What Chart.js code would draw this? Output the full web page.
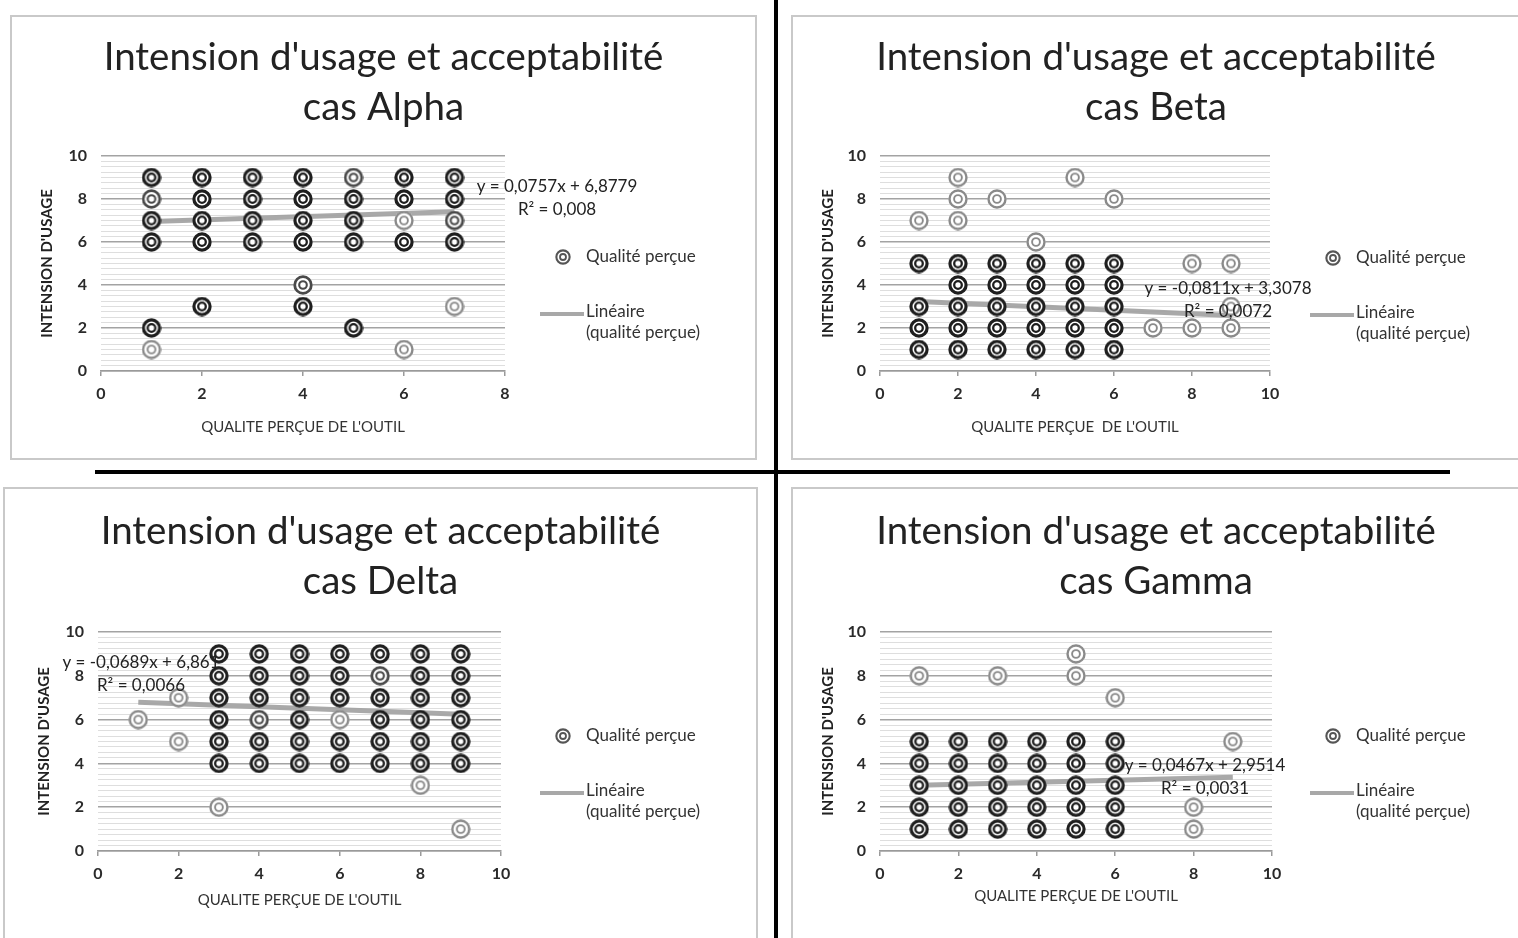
<!DOCTYPE html>
<html>
<head>
<meta charset="utf-8">
<title>Intension d'usage et acceptabilité</title>
<script src="https://cdn.jsdelivr.net/npm/chart.js@4"></script>
<style>
  body { margin:0; width:1518px; height:938px; overflow:hidden; background:#fff; position:relative; }
  .frame { position:absolute; border:2px solid #c9c9c9; box-sizing:border-box; }
  .rule { position:absolute; background:#000; }
  canvas { position:absolute; }
</style>
</head>
<body>
<div class="rule" style="left:774px;top:0;width:4px;height:938px"></div>
<div class="rule" style="left:95px;top:470px;width:1355px;height:4px"></div>

<script>
// values
// n = how many answers sit on the same spot (guessed from how dark the marker is)

// cas Alpha
const alphaX = [1,1,1,1,1,1, 2,2,2,2,2, 3,3,3,3, 4,4,4,4,4,4, 5,5,5,5,5, 6,6,6,6,6, 7,7,7,7,7];
const alphaY = [9,8,7,6,2,1, 9,8,7,6,3, 9,8,7,6, 9,8,7,6,4,3, 9,8,7,6,2, 9,8,7,6,1, 9,8,7,6,3];
const alphaN = [3,2,3,3,3,1, 3,3,3,3,3, 3,3,3,3, 3,3,3,3,2,3, 2,3,3,3,3, 3,3,1,3,1, 3,3,2,3,1];
const alphaTrendX = [1, 7];
const alphaTrendY = [6.954, 7.408];
const alphaEq = ['y = 0,0757x + 6,8779', 'R² = 0,008'];

// cas Beta
const betaX = [1,1,1,1,1, 2,2,2,2,2,2,2,2, 3,3,3,3,3,3, 4,4,4,4,4,4, 5,5,5,5,5,5, 6,6,6,6,6,6, 7, 8,8, 9,9,9];
const betaY = [7,5,3,2,1, 9,8,7,5,4,3,2,1, 8,5,4,3,2,1, 6,5,4,3,2,1, 9,5,4,3,2,1, 8,5,4,3,2,1, 2, 5,2, 5,3,2];
const betaN = [1,3,3,3,3, 1,1,1,3,3,3,3,3, 1,3,3,3,3,3, 1,3,3,3,3,3, 1,3,3,3,3,3, 1,3,3,3,3,3, 1, 1,1, 1,1,1];
const betaTrendX = [1, 9];
const betaTrendY = [3.227, 2.578];
const betaEq = ['y = -0,0811x + 3,3078', 'R² = 0,0072'];

// cas Delta
const deltaX = [1, 2,2, 3,3,3,3,3,3,3, 4,4,4,4,4,4, 5,5,5,5,5,5, 6,6,6,6,6,6, 7,7,7,7,7,7, 8,8,8,8,8,8,8, 9,9,9,9,9,9,9];
const deltaY = [6, 7,5, 9,8,7,6,5,4,2, 9,8,7,6,5,4, 9,8,7,6,5,4, 9,8,7,6,5,4, 9,8,7,6,5,4, 9,8,7,6,5,4,3, 9,8,7,6,5,4,1];
const deltaN = [1, 1,1, 3,3,3,3,3,3,1, 3,3,3,2,3,3, 3,3,3,3,3,3, 3,3,3,1,3,3, 3,2,3,3,3,3, 3,3,3,3,3,3,1, 3,3,3,3,3,3,1];
const deltaTrendX = [1, 9];
const deltaTrendY = [6.792, 6.241];
const deltaEq = ['y = -0,0689x + 6,861', 'R² = 0,0066'];

// cas Gamma
const gammaX = [1,1,1,1,1,1, 2,2,2,2,2, 3,3,3,3,3,3, 4,4,4,4,4, 5,5,5,5,5,5,5, 6,6,6,6,6,6, 8,8, 9];
const gammaY = [8,5,4,3,2,1, 5,4,3,2,1, 8,5,4,3,2,1, 5,4,3,2,1, 9,8,5,4,3,2,1, 7,5,4,3,2,1, 2,1, 5];
const gammaN = [1,3,3,3,3,3, 3,3,3,3,3, 1,3,3,3,3,3, 3,3,3,3,3, 1,1,3,3,3,3,3, 1,3,3,3,3,3, 1,1, 1];
const gammaTrendX = [1, 9];
const gammaTrendY = [2.998, 3.372];
const gammaEq = ['y = 0,0467x + 2,9514', 'R² = 0,0031'];

const mainTitle = "Intension d'usage et acceptabilité";
const yTitle = "INTENSION D'USAGE";
const legendPoints = 'Qualité perçue';
const legendTrend = ['Linéaire', '(qualité perçue)'];

const cases = [
  { name: 'cas Alpha', xs: alphaX, ys: alphaY, ns: alphaN, tx: alphaTrendX, ty: alphaTrendY, eq: alphaEq, xMax: 8,  xTitle: "QUALITE PERÇUE DE L'OUTIL" },
  { name: 'cas Beta',  xs: betaX,  ys: betaY,  ns: betaN,  tx: betaTrendX,  ty: betaTrendY,  eq: betaEq,  xMax: 10, xTitle: "QUALITE PERÇUE  DE L'OUTIL" },
  { name: 'cas Delta', xs: deltaX, ys: deltaY, ns: deltaN, tx: deltaTrendX, ty: deltaTrendY, eq: deltaEq, xMax: 10, xTitle: "QUALITE PERÇUE DE L'OUTIL" },
  { name: 'cas Gamma', xs: gammaX, ys: gammaY, ns: gammaN, tx: gammaTrendX, ty: gammaTrendY, eq: gammaEq, xMax: 10, xTitle: "QUALITE PERÇUE DE L'OUTIL" }
];

// where each panel sits on the page (px)
const panels = [
  { left: 10,  top: 15,  w: 747, h: 445, plotL: 91, plotR: 495, plotT: 141, plotB: 356, titleTop: 18, xTitlePad: 24, yTitlePad: 29, eqX: 547, eqY: 172, legX: 553, legY: 242 },
  { left: 791, top: 15,  w: 730, h: 445, plotL: 89, plotR: 479, plotT: 141, plotB: 356, titleTop: 18, xTitlePad: 24, yTitlePad: 29, eqX: 437, eqY: 274, legX: 542, legY: 243 },
  { left: 3,   top: 487, w: 755, h: 451, plotL: 95, plotR: 498, plotT: 145, plotB: 364, titleTop: 20, xTitlePad: 29, yTitlePad: 33, eqX: 138, eqY: 176, legX: 560, legY: 249 },
  { left: 791, top: 487, w: 730, h: 451, plotL: 89, plotR: 481, plotT: 145, plotB: 364, titleTop: 20, xTitlePad: 33, yTitlePad: 29, eqX: 414, eqY: 279, legX: 542, legY: 249 }
];

const FONT = 'Lato, "Open Sans", sans-serif';

function makeMarker(size, color, outerW, innerR, innerW) {
  const c = document.createElement('canvas');
  c.width = size; c.height = size;
  const g = c.getContext('2d');
  const m = size / 2;
  g.fillStyle = '#fff';
  g.beginPath(); g.arc(m, m, m - 0.5, 0, Math.PI * 2); g.fill();
  g.strokeStyle = color;
  g.lineWidth = outerW;
  g.beginPath(); g.arc(m, m, m - outerW / 2 - 0.3, 0, Math.PI * 2); g.stroke();
  g.lineWidth = innerW;
  g.beginPath(); g.arc(m, m, innerR, 0, Math.PI * 2); g.stroke();
  return c;
}

const markers = {
  1: makeMarker(20, '#8a8a8a', 2.4, 3.9, 1.9),
  2: makeMarker(20, '#4a4a4a', 2.8, 3.8, 2.1),
  3: makeMarker(20, '#1e1e1e', 3.2, 3.8, 2.3)
};
const legendMarker = makeMarker(16, '#555', 2.1, 3, 1.8);

cases.forEach((c, i) => {
  const g = panels[i];

  const frame = document.createElement('div');
  frame.className = 'frame';
  Object.assign(frame.style, { left: g.left + 'px', top: g.top + 'px', width: g.w + 'px', height: (g.h + (g.top > 400 ? 20 : 0)) + 'px' });

  const canvas = document.createElement('canvas');
  canvas.width = g.w; canvas.height = g.h;
  canvas.style.left = g.left + 'px';
  canvas.style.top = g.top + 'px';
  document.body.appendChild(canvas);
  document.body.appendChild(frame);

  const extras = {
    id: 'extras' + i,
    afterDraw(chart) {
      const ctx = chart.ctx;
      ctx.save();
      // trend equation
      ctx.fillStyle = '#222';
      ctx.font = '17px ' + FONT;
      ctx.textAlign = 'center';
      ctx.textBaseline = 'middle';
      ctx.fillText(c.eq[0], g.eqX, g.eqY);
      ctx.fillText(c.eq[1], g.eqX, g.eqY + 23);
      // legend
      ctx.drawImage(legendMarker, g.legX - 8, g.legY - 8);
      ctx.textAlign = 'left';
      ctx.fillStyle = '#333';
      ctx.fillText(legendPoints, g.legX + 23, g.legY);
      ctx.strokeStyle = '#a8a8a8';
      ctx.lineWidth = 4;
      ctx.beginPath();
      ctx.moveTo(g.legX - 23, g.legY + 57);
      ctx.lineTo(g.legX + 21, g.legY + 57);
      ctx.stroke();
      ctx.fillText(legendTrend[0], g.legX + 23, g.legY + 55);
      ctx.fillText(legendTrend[1], g.legX + 23, g.legY + 76);
      ctx.restore();
    }
  };

  new Chart(canvas, {
    type: 'scatter',
    data: {
      datasets: [
        {
          label: legendPoints,
          data: c.xs.map((x, k) => ({ x: x, y: c.ys[k] })),
          pointStyle: ctx => markers[c.ns[ctx.dataIndex]] || markers[1],
          pointRadius: 10,
          order: 0
        },
        {
          label: 'Linéaire (qualité perçue)',
          type: 'line',
          data: c.tx.map((x, k) => ({ x: x, y: c.ty[k] })),
          borderColor: 'rgba(160,160,160,0.9)',
          borderWidth: 5,
          pointRadius: 0,
          fill: false,
          order: 1
        }
      ]
    },
    plugins: [extras],
    options: {
      responsive: false,
      animation: false,
      events: [],
      layout: { padding: 0 },
      plugins: {
        legend: { display: false },
        tooltip: { enabled: false },
        title: {
          display: true,
          text: [mainTitle, c.name],
          color: '#222',
          font: { family: FONT, size: 38.5, weight: 'normal', lineHeight: '50px' },
          padding: { top: g.titleTop, bottom: g.plotT - g.titleTop - 100 }
        }
      },
      scales: {
        x: {
          type: 'linear',
          min: 0,
          max: c.xMax,
          afterFit: s => { s.height = g.h - g.plotB; },
          border: { display: true, color: '#9a9a9a', width: 1.5 },
          grid: { drawOnChartArea: false, drawTicks: true, tickLength: 5, color: '#9a9a9a', lineWidth: 1.5 },
          ticks: { stepSize: 2, padding: 8, color: '#2a2a2a', font: { family: FONT, size: 16, weight: 'bold' } },
          title: {
            display: true, text: c.xTitle, color: '#333',
            font: { family: FONT, size: 15 },
            padding: { top: 0, bottom: g.xTitlePad }
          }
        },
        y: {
          min: 0,
          max: 10,
          afterFit: s => { s.width = g.plotL; },
          border: { display: false },
          grid: {
            drawTicks: false,
            color: ctx => ctx.tick && ctx.tick.value % 2 === 0 ? '#a3a3a3' : '#dedede',
            lineWidth: ctx => ctx.tick && ctx.tick.value % 2 === 0 ? 1.5 : 1
          },
          ticks: {
            stepSize: 0.25, autoSkip: false, padding: 14, color: '#2a2a2a',
            font: { family: FONT, size: 16, weight: 'bold' },
            callback: v => (v % 2 === 0 ? v : '')
          },
          title: {
            display: true, text: yTitle, color: '#222',
            font: { family: FONT, size: 15, weight: 'bold' },
            padding: { top: g.yTitlePad - 1, bottom: 0 }
          }
        },
        // empty box on the right: keeps room for the legend and the trend equation
        side: {
          type: 'linear',
          position: 'right',
          display: true,
          afterFit: s => { s.width = g.w - g.plotR; },
          border: { display: false },
          grid: { display: false },
          ticks: { display: false },
          title: { display: false }
        }
      }
    }
  });
});
</script>
</body>
</html>
